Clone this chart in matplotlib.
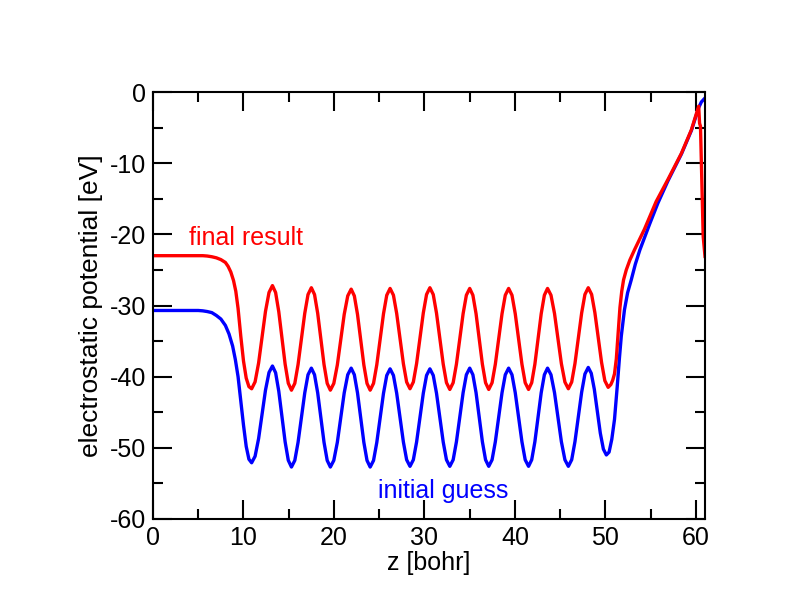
import matplotlib
matplotlib.use("Agg")
import matplotlib.pyplot as plt
from matplotlib.ticker import MultipleLocator

plt.rcParams['font.family'] = ['Liberation Sans', 'DejaVu Sans']
plt.rcParams['axes.unicode_minus'] = False

# final result (red)
z_final = [0.0, 5.5, 6.0, 6.5, 7.0, 7.5, 8.0, 8.3, 8.6, 8.9, 9.15, 9.4, 9.7, 10.0, 10.3, 10.6,
           10.9, 11.28, 11.67, 12.05, 12.43, 12.82,
           13.2, 13.55, 13.9, 14.25, 14.6, 14.95,
           15.3, 15.67, 16.03, 16.4, 16.77, 17.13,
           17.5, 17.85, 18.2, 18.55, 18.9, 19.25,
           19.6, 19.98, 20.37, 20.75, 21.13, 21.52,
           21.9, 22.25, 22.6, 22.95, 23.3, 23.65,
           24.0, 24.37, 24.73, 25.1, 25.47, 25.83,
           26.2, 26.57, 26.93, 27.3, 27.67, 28.03,
           28.4, 28.77, 29.13, 29.5, 29.87, 30.23,
           30.6, 30.97, 31.33, 31.7, 32.07, 32.43,
           32.8, 33.17, 33.53, 33.9, 34.27, 34.63,
           35.0, 35.35, 35.7, 36.05, 36.4, 36.75,
           37.1, 37.47, 37.83, 38.2, 38.57, 38.93,
           39.3, 39.67, 40.03, 40.4, 40.77, 41.13,
           41.5, 41.85, 42.2, 42.55, 42.9, 43.25,
           43.6, 43.98, 44.37, 44.75, 45.13, 45.52,
           45.9, 46.27, 46.63, 47.0, 47.37, 47.73,
           48.1, 48.47, 48.83, 49.2, 49.57, 49.93,
           50.3, 50.6, 50.8, 51.0, 51.2, 51.4, 51.6, 51.8, 52.0, 52.3, 52.7, 53.2,
           54.3, 55.6, 56.9, 58.4, 59.5, 60.3, 60.4, 60.5, 60.8, 61.0]
v_final = [-23.0, -23.0, -23.05, -23.15, -23.3, -23.55, -23.95, -24.5, -25.3, -26.5, -28.0, -30.4,
           -34.3, -37.8, -40.2, -41.4,
           -41.7, -40.73, -38.08, -34.45, -30.83, -28.17,
           -27.2, -28.18, -30.88, -34.55, -38.23, -40.92,
           -41.9, -40.94, -38.3, -34.7, -31.1, -28.46,
           -27.5, -28.46, -31.1, -34.7, -38.3, -40.94,
           -41.9, -40.95, -38.35, -34.8, -31.25, -28.65,
           -27.7, -28.65, -31.25, -34.8, -38.35, -40.95,
           -41.9, -40.94, -38.33, -34.75, -31.18, -28.56,
           -27.6, -28.55, -31.13, -34.65, -38.18, -40.76,
           -41.7, -40.75, -38.15, -34.6, -31.05, -28.45,
           -27.5, -28.46, -31.08, -34.65, -38.23, -40.84,
           -41.8, -40.85, -38.25, -34.7, -31.15, -28.55,
           -27.6, -28.55, -31.15, -34.7, -38.25, -40.85,
           -41.8, -40.85, -38.25, -34.7, -31.15, -28.55,
           -27.6, -28.55, -31.15, -34.7, -38.25, -40.85,
           -41.8, -40.85, -38.25, -34.7, -31.15, -28.55,
           -27.6, -28.55, -31.13, -34.65, -38.18, -40.76,
           -41.7, -40.75, -38.15, -34.6, -31.05, -28.45,
           -27.5, -28.44, -31.0, -34.5, -38.0, -40.56,
           -41.5, -41.1, -40.5, -39.6, -37.5, -34.0, -30.3, -28.0, -26.4, -25.0, -23.6, -22.2,
           -19.3, -15.4, -12.3, -8.6, -5.3, -2.0, -4.4, -4.8, -20.3, -23.1]

# initial guess (blue)
z_initial = [0.0, 5.0, 5.5, 6.0, 6.5, 7.0, 7.5, 8.0, 8.4, 8.8, 9.1, 9.4, 9.7, 10.0, 10.3, 10.6,
             10.9, 11.28, 11.67, 12.05, 12.43, 12.82,
             13.2, 13.55, 13.9, 14.25, 14.6, 14.95,
             15.3, 15.67, 16.03, 16.4, 16.77, 17.13,
             17.5, 17.85, 18.2, 18.55, 18.9, 19.25,
             19.6, 19.98, 20.37, 20.75, 21.13, 21.52,
             21.9, 22.25, 22.6, 22.95, 23.3, 23.65,
             24.0, 24.37, 24.73, 25.1, 25.47, 25.83,
             26.2, 26.57, 26.93, 27.3, 27.67, 28.03,
             28.4, 28.77, 29.13, 29.5, 29.87, 30.23,
             30.6, 30.97, 31.33, 31.7, 32.07, 32.43,
             32.8, 33.17, 33.53, 33.9, 34.27, 34.63,
             35.0, 35.35, 35.7, 36.05, 36.4, 36.75,
             37.1, 37.47, 37.83, 38.2, 38.57, 38.93,
             39.3, 39.67, 40.03, 40.4, 40.77, 41.13,
             41.5, 41.85, 42.2, 42.55, 42.9, 43.25,
             43.6, 43.98, 44.37, 44.75, 45.13, 45.52,
             45.9, 46.27, 46.63, 47.0, 47.37, 47.73,
             48.1, 48.43, 48.77, 49.1, 49.43, 49.77,
             50.1, 50.4, 50.7, 51.0, 51.3, 51.55, 51.75, 52.1, 52.45, 52.85, 53.3, 53.8,
             54.9, 55.8, 56.9, 58.4, 59.5, 60.3, 60.6, 61.0]
v_initial = [-30.7, -30.7, -30.75, -30.85, -31.0, -31.4, -31.9, -32.8, -34.0, -35.7, -37.6, -40.0,
             -43.4, -46.8, -49.8, -51.6,
             -52.1, -51.19, -48.7, -45.3, -41.9, -39.41,
             -38.5, -39.45, -42.05, -45.6, -49.15, -51.75,
             -52.7, -51.77, -49.23, -45.75, -42.28, -39.73,
             -38.8, -39.73, -42.28, -45.75, -49.23, -51.77,
             -52.7, -51.77, -49.23, -45.75, -42.28, -39.73,
             -38.8, -39.73, -42.28, -45.75, -49.23, -51.77,
             -52.7, -51.78, -49.25, -45.8, -42.35, -39.83,
             -38.9, -39.82, -42.33, -45.75, -49.18, -51.68,
             -52.6, -51.68, -49.18, -45.75, -42.33, -39.82,
             -38.9, -39.82, -42.33, -45.75, -49.18, -51.68,
             -52.6, -51.68, -49.15, -45.7, -42.25, -39.73,
             -38.8, -39.73, -42.25, -45.7, -49.15, -51.68,
             -52.6, -51.68, -49.15, -45.7, -42.25, -39.73,
             -38.8, -39.73, -42.25, -45.7, -49.15, -51.68,
             -52.6, -51.68, -49.15, -45.7, -42.25, -39.73,
             -38.8, -39.73, -42.25, -45.7, -49.15, -51.68,
             -52.6, -51.67, -49.13, -45.65, -42.18, -39.63,
             -38.7, -39.52, -41.78, -44.85, -47.93, -50.18,
             -51.0, -50.6, -48.8, -46.0, -41.4, -37.3, -34.3, -30.6, -28.2, -26.4, -24.2, -22.2,
             -18.5, -15.6, -12.5, -8.7, -5.4, -2.2, -1.4, -0.85]

fig = plt.figure(figsize=(7.92, 6.12), dpi=100)
ax = fig.add_axes([153/792, 1-519/612, 552/792, 427/612])

ax.plot(z_initial, v_initial, color='blue', lw=2.4, solid_joinstyle='round')
ax.plot(z_final, v_final, color='red', lw=2.4, solid_joinstyle='round')

ax.text(4.0, -21.5, 'final result', color='red', fontsize=18)
ax.text(24.9, -57.0, 'initial guess', color='blue', fontsize=18)

ax.set_xlim(0, 61)
ax.set_ylim(-60, 0)
ax.xaxis.set_major_locator(MultipleLocator(10))
ax.xaxis.set_minor_locator(MultipleLocator(5))
ax.yaxis.set_major_locator(MultipleLocator(10))
ax.yaxis.set_minor_locator(MultipleLocator(5))
ax.tick_params(which='both', direction='in', top=True, right=True, width=1.5, labelsize=18)
ax.tick_params(which='major', length=13.5, pad=5)
ax.tick_params(which='minor', length=7)
for s in ax.spines.values():
    s.set_linewidth(1.5)

ax.set_xlabel('z [bohr]', fontsize=18, labelpad=1)
ax.set_ylabel('electrostatic potential [eV]', fontsize=19, labelpad=5)

fig.savefig('out.png', dpi=100)
